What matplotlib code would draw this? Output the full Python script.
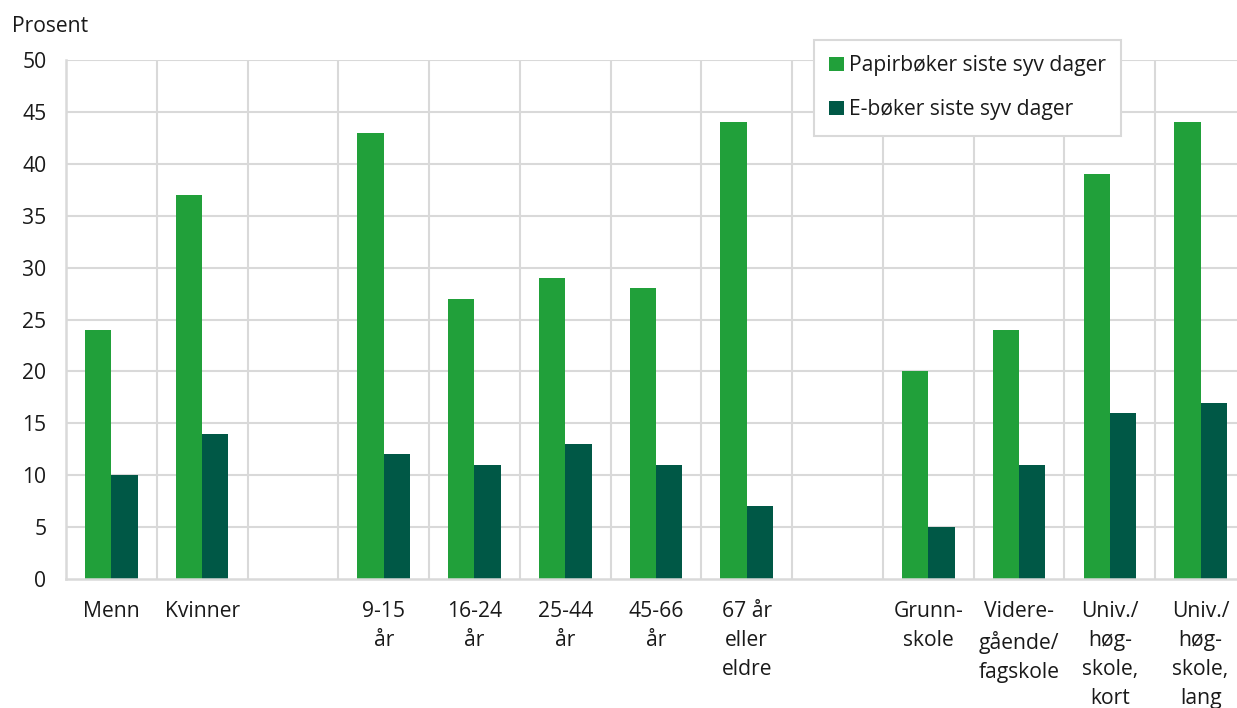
import matplotlib
matplotlib.use("Agg")
import matplotlib.pyplot as plt
from matplotlib.patches import Patch
import numpy as np

categories = ["Menn", "Kvinner", "", "9-15\når", "16-24\når", "25-44\når", "45-66\når",
              "67 år\neller\neldre", "", "Grunn-\nskole", "Videre-\ngående/\nfagskole",
              "Univ./\nhøg-\nskole,\nkort", "Univ./\nhøg-\nskole,\nlang"]
papir = [24, 37, np.nan, 43, 27, 29, 28, 44, np.nan, 20, 24, 39, 44]
ebok = [10, 14, np.nan, 12, 11, 13, 11, 7, np.nan, 5, 11, 16, 17]
series_names = ["Papirbøker siste syv dager", "E-bøker siste syv dager"]
yticks = [0, 5, 10, 15, 20, 25, 30, 35, 40, 45, 50]

GREEN = "#21a03a"
DARK = "#005846"
GRID = "#d9d9d9"
FS = 15.2

plt.rcParams['font.family'] = ['Open Sans', 'DejaVu Sans']

W, H = 1237, 708
fig = plt.figure(figsize=(W / 100, H / 100), dpi=100)
ax = fig.add_axes([66 / W, (H - 579) / H, 1180 / W, (579 - 60) / H])

x = np.arange(len(categories))
bw = 0.29
ax.bar(x - bw / 2, papir, bw, color=GREEN, zorder=3)
ax.bar(x + bw / 2, ebok, bw, color=DARK, zorder=3)

ax.set_xlim(-0.5, len(categories) - 0.5)
ax.set_ylim(0, 50)
ax.set_yticks(yticks)
ax.set_yticklabels([str(v) for v in yticks], fontsize=FS, color="#1a1a1a")
ax.set_xticks(x)
ax.set_xticklabels(categories, fontsize=FS, color="#1a1a1a", linespacing=1.5, va="top")
ax.tick_params(axis='both', length=0)
ax.tick_params(axis='x', pad=16)
ax.tick_params(axis='y', pad=14)

# grid
for yv in yticks[1:]:
    ax.axhline(yv, color=GRID, lw=1.5, zorder=1)
for xv in np.arange(0.5, len(categories) - 0.5, 1.0):
    ax.axvline(xv, color=GRID, lw=1.5, zorder=1)
for s in ["top", "right"]:
    ax.spines[s].set_visible(False)
for s in ["left", "bottom"]:
    ax.spines[s].set_color(GRID)
    ax.spines[s].set_linewidth(1.8)
    ax.spines[s].set_zorder(4)

fig.text(12 / W, 1 - 26 / H, "Prosent", fontsize=FS, color="#1a1a1a", va="center", ha="left")

handles = [Patch(facecolor=GREEN), Patch(facecolor=DARK)]
leg = fig.legend(handles, series_names, loc="upper left",
                 bbox_to_anchor=(814 / W, 1 - 40 / H), fontsize=FS,
                 frameon=True, fancybox=False, edgecolor=GRID, framealpha=1,
                 handlelength=0.68, handleheight=0.68, handletextpad=0.25,
                 labelspacing=1.1, borderpad=0.72, borderaxespad=0)
leg.get_frame().set_linewidth(1.5)
for t in leg.get_texts():
    t.set_color("#1a1a1a")

fig.savefig("out.png", dpi=100)
